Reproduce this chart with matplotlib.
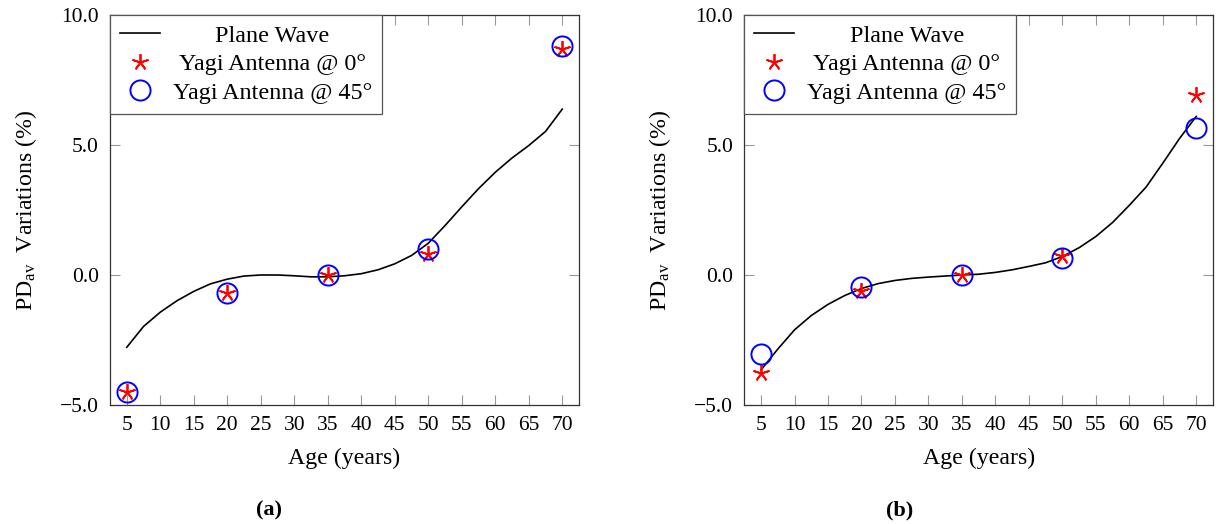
import matplotlib
matplotlib.use("Agg")
import matplotlib.pyplot as plt
import numpy as np

plt.rcParams['font.family'] = ['Liberation Serif', 'DejaVu Serif']
plt.rcParams['mathtext.fontset'] = 'custom'
plt.rcParams['mathtext.rm'] = 'Liberation Serif'
plt.rcParams['mathtext.it'] = 'Liberation Serif:italic'
plt.rcParams['mathtext.bf'] = 'Liberation Serif:bold'

# ---- data ----
curve_age = [5, 7.5, 10, 12.5, 15, 17.5, 20, 22.5, 25, 27.5, 30, 32.5, 35,
             37.5, 40, 42.5, 45, 47.5, 50, 52.5, 55, 57.5, 60, 62.5, 65, 67.5, 70]
plane_a = [-2.78, -1.98, -1.43, -0.99, -0.63, -0.34, -0.16, -0.04, 0.0, 0.0,
           -0.03, -0.07, -0.07, -0.03, 0.05, 0.2, 0.43, 0.75, 1.22, 1.90,
           2.62, 3.32, 3.95, 4.50, 4.98, 5.52, 6.38]
plane_b = [-3.65, -2.85, -2.11, -1.56, -1.13, -0.79, -0.52, -0.33, -0.21, -0.13,
           -0.08, -0.04, 0.0, 0.03, 0.10, 0.20, 0.33, 0.47, 0.71, 1.05,
           1.48, 2.02, 2.68, 3.38, 4.30, 5.25, 6.10]

marker_age = [5, 20, 35, 50, 70]
yagi0_a = [-4.49, -0.70, 0.0, 0.81, 8.69]
yagi45_a = [-4.50, -0.70, 0.0, 0.99, 8.82]
yagi0_b = [-3.78, -0.62, 0.0, 0.74, 6.92]
yagi45_b = [-3.04, -0.47, 0.0, 0.67, 5.67]

xticks = list(range(5, 75, 5))
yticks = [-5.0, 0.0, 5.0, 10.0]
ytick_labels = ["\u22125.0", "0.0", "5.0", "10.0"]
captions = ["(a)", "(b)"]
labels = ["Plane Wave", "Yagi Antenna @ 0\u00b0", "Yagi Antenna @ 45\u00b0"]

# ---- figure ----
fig = plt.figure(figsize=(12.16, 5.24), dpi=100)
ax_a = fig.add_axes([110 / 1216, 119 / 524, 469 / 1216, 390 / 524])
ax_b = fig.add_axes([744.3 / 1216, 119 / 524, 468.7 / 1216, 390 / 524])

star = (5, 2, 0)
legends = []
for ax, pw, y0, y45 in [(ax_a, plane_a, yagi0_a, yagi45_a),
                        (ax_b, plane_b, yagi0_b, yagi45_b)]:
    ax.plot(curve_age, pw, color='black', lw=1.2, label=labels[0])
    ax.plot(marker_age, y0, linestyle='none', marker=star, markersize=12,
            markeredgewidth=1.3, color='#ff0000', label=labels[1])
    ax.plot(marker_age, y45, linestyle='none', marker='o', markersize=14.5,
            markeredgewidth=1.4, markerfacecolor='none', markeredgecolor='#0000ff',
            label=labels[2])
    ax.set_xlim(2.5, 72.5)
    ax.set_ylim(-5, 10)
    ax.set_xticks(xticks)
    ax.set_yticks(yticks)
    ax.set_yticklabels(ytick_labels)
    ax.tick_params(direction='in', length=7, width=0.8, color='#999999',
                   top=True, right=True, labelsize=15.5, pad=8)
    for s in ax.spines.values():
        s.set_color('#333333')
        s.set_linewidth(0.9)
    ax.set_xlabel("Age (years)", fontsize=17.2, labelpad=9)
    ax.set_ylabel(r"PD$_{\mathrm{av}}$  Variations (%)", fontsize=17.2, labelpad=15)
    leg = ax.legend(loc='upper left', borderaxespad=0, fontsize=17.4,
                    fancybox=False, framealpha=1, edgecolor='#555555',
                    handlelength=1.65, labelspacing=0.28, borderpad=0.4,
                    handletextpad=0.55)
    leg.get_frame().set_linewidth(0.9)
    legends.append(leg)

fig.canvas.draw()
r = fig.canvas.get_renderer()
for leg in legends:
    texts = leg.get_texts()
    widths = [t.get_window_extent(r).width for t in texts]
    mw = max(widths)
    for t, w in zip(texts, widths):
        t.set_position(((mw - w) / 2, 0))

fig.text(269 / 1216, 14 / 524, captions[0], fontsize=16, fontweight='bold',
         ha='center', va='center')
fig.text(900 / 1216, 14 / 524, captions[1], fontsize=16, fontweight='bold',
         ha='center', va='center')

fig.savefig("out.png", dpi=100)
